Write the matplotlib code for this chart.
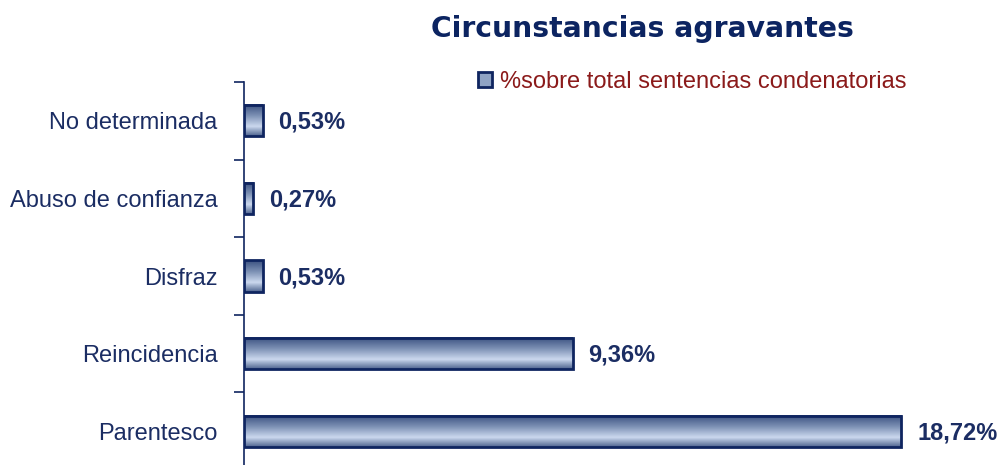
import numpy as np
import matplotlib.pyplot as plt
from matplotlib.patches import Patch
from matplotlib.colors import LinearSegmentedColormap

# Data
categorias = ["No determinada", "Abuso de confianza", "Disfraz", "Reincidencia", "Parentesco"]
valores = [0.53, 0.27, 0.53, 9.36, 18.72]
etiquetas = ["0,53%", "0,27%", "0,53%", "9,36%", "18,72%"]

navy = "#0f2560"
label_col = "#1b2d63"
red = "#8b1a1a"

plt.rcParams['font.family'] = ['Liberation Sans', 'DejaVu Sans']

fig = plt.figure(figsize=(9.99, 4.65), dpi=100)
ax = fig.add_axes([244 / 999, -5 / 465, 1 - 244 / 999, 388 / 465])

# gradient: dark top, light around 70%, darker bottom
grad_cmap = LinearSegmentedColormap.from_list(
    "bar", [(0.0, "#3a5080"), (0.35, "#7b8fb3"), (0.7, "#cbd8ee"), (1.0, "#4f6590")])
grad = np.linspace(0, 1, 64).reshape(-1, 1)

y = np.arange(len(categorias))
h = 0.4
for yi, v in zip(y, valores):
    ax.imshow(grad, cmap=grad_cmap, aspect='auto', origin='upper',
              extent=(0, v, yi + h / 2, yi - h / 2), zorder=2)
ax.barh(y, valores, height=h, facecolor='none', edgecolor=navy, linewidth=2, zorder=3)

for yi, v, t in zip(y, valores, etiquetas):
    ax.text(v + 0.45, yi + 0.02, t, va='center', ha='left', fontsize=17, fontweight='bold',
            color=label_col)

ax.set_xlim(0, 21.5)
ax.set_ylim(4.5, -0.5)
ax.set_yticks(y)
ax.set_yticklabels(categorias, fontsize=17, color=label_col)
ax.set_yticks(np.arange(-0.5, 4.6, 1), minor=True)
ax.tick_params(axis='y', which='major', length=0, pad=19)
ax.tick_params(axis='y', which='minor', length=7, width=1.2, color=navy, direction='out')
ax.set_xticks([])
for s in ['top', 'right', 'bottom']:
    ax.spines[s].set_visible(False)
ax.spines['left'].set_color(navy)
ax.spines['left'].set_linewidth(1.2)

fig.text(0.643, 0.938, "Circunstancias agravantes", ha='center', va='center',
         fontsize=20.3, fontweight='bold', color="#0c2461", family='DejaVu Sans')

handle = Patch(facecolor="#8fa3c4", edgecolor=navy, linewidth=2)
leg = fig.legend([handle], ["%sobre total sentencias condenatorias"], loc='center left',
                 bbox_to_anchor=(0.478, 0.824), frameon=False, fontsize=17,
                 handlelength=0.6, handleheight=0.6, handletextpad=0.35,
                 borderaxespad=0, borderpad=0)
for t in leg.get_texts():
    t.set_color(red)

fig.savefig("out.png", dpi=100)
